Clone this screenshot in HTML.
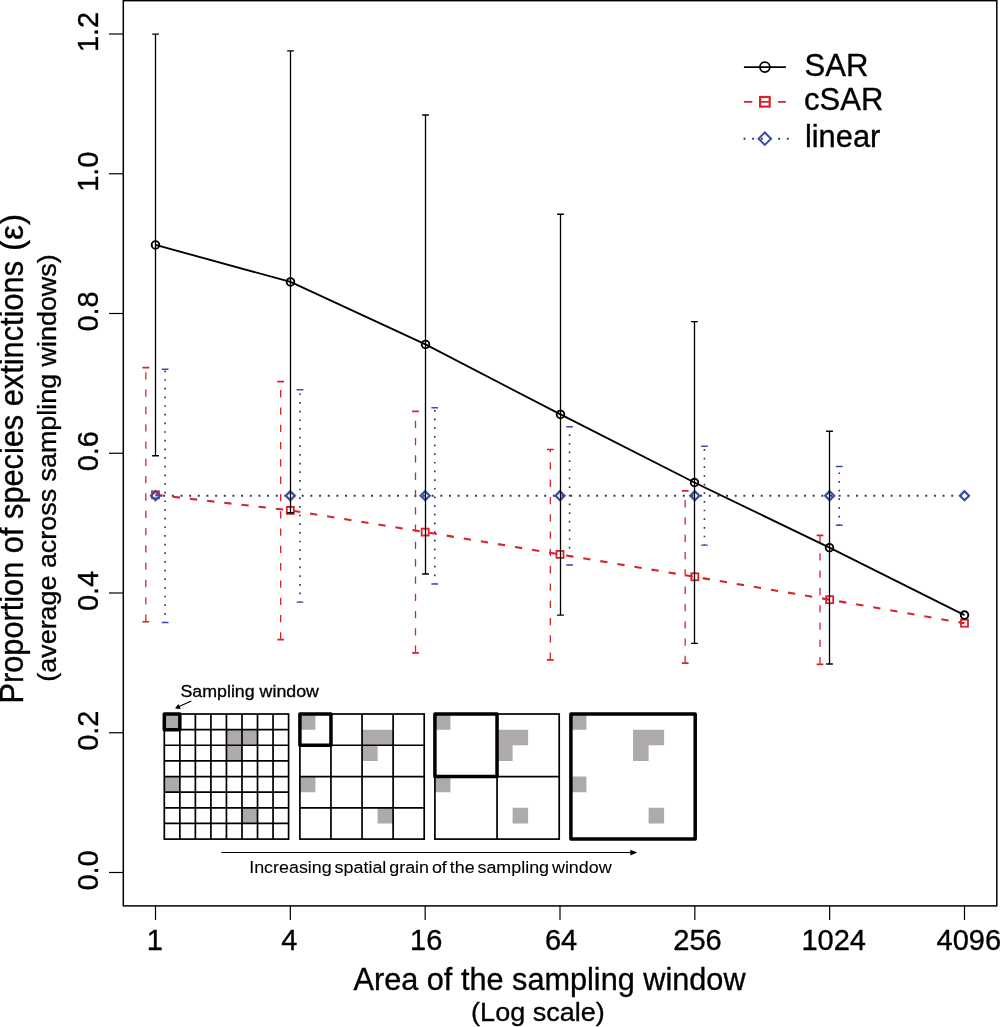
<!DOCTYPE html>
<html><head><meta charset="utf-8"><style>html,body{margin:0;padding:0;background:#fff;}svg{display:block;will-change:transform;} text{stroke:#000;stroke-width:0.35px;}</style></head>
<body><svg width="1000" height="1027" viewBox="0 0 1000 1027">
<rect x="0" y="0" width="1000" height="1027" fill="#fff"/>
<rect x="123.3" y="0.65" width="873.5" height="905.25" fill="none" stroke="#000" stroke-width="1.5"/>
<line x1="109" y1="872.5" x2="123.3" y2="872.5" stroke="#000" stroke-width="1.2"/>
<line x1="109" y1="732.75" x2="123.3" y2="732.75" stroke="#000" stroke-width="1.2"/>
<line x1="109" y1="593" x2="123.3" y2="593" stroke="#000" stroke-width="1.2"/>
<line x1="109" y1="453.25" x2="123.3" y2="453.25" stroke="#000" stroke-width="1.2"/>
<line x1="109" y1="313.5" x2="123.3" y2="313.5" stroke="#000" stroke-width="1.2"/>
<line x1="109" y1="173.75" x2="123.3" y2="173.75" stroke="#000" stroke-width="1.2"/>
<line x1="109" y1="34" x2="123.3" y2="34" stroke="#000" stroke-width="1.2"/>
<line x1="155.5" y1="905.9" x2="155.5" y2="920" stroke="#000" stroke-width="1.2"/>
<line x1="290.33" y1="905.9" x2="290.33" y2="920" stroke="#000" stroke-width="1.2"/>
<line x1="425.17" y1="905.9" x2="425.17" y2="920" stroke="#000" stroke-width="1.2"/>
<line x1="560" y1="905.9" x2="560" y2="920" stroke="#000" stroke-width="1.2"/>
<line x1="694.83" y1="905.9" x2="694.83" y2="920" stroke="#000" stroke-width="1.2"/>
<line x1="829.66" y1="905.9" x2="829.66" y2="920" stroke="#000" stroke-width="1.2"/>
<line x1="964.5" y1="905.9" x2="964.5" y2="920" stroke="#000" stroke-width="1.2"/>
<text x="146.87" y="950" font-family="Liberation Sans, sans-serif" font-size="29">1</text>
<text x="281.27" y="950" font-family="Liberation Sans, sans-serif" font-size="29">4</text>
<text x="410.07" y="950" font-family="Liberation Sans, sans-serif" font-size="29">16</text>
<text x="544.9" y="950" font-family="Liberation Sans, sans-serif" font-size="29">64</text>
<text x="673.25" y="950" font-family="Liberation Sans, sans-serif" font-size="29">256</text>
<text x="801.47" y="950" font-family="Liberation Sans, sans-serif" font-size="29">1024</text>
<text x="936.57" y="950" font-family="Liberation Sans, sans-serif" font-size="29">4096</text>
<text transform="translate(98,890.6) rotate(-90)" font-family="Liberation Sans, sans-serif" font-size="29">0.0</text>
<text transform="translate(98,750.85) rotate(-90)" font-family="Liberation Sans, sans-serif" font-size="29">0.2</text>
<text transform="translate(98,611.1) rotate(-90)" font-family="Liberation Sans, sans-serif" font-size="29">0.4</text>
<text transform="translate(98,471.35) rotate(-90)" font-family="Liberation Sans, sans-serif" font-size="29">0.6</text>
<text transform="translate(98,331.6) rotate(-90)" font-family="Liberation Sans, sans-serif" font-size="29">0.8</text>
<text transform="translate(98,191.85) rotate(-90)" font-family="Liberation Sans, sans-serif" font-size="29">1.0</text>
<text transform="translate(98,52.1) rotate(-90)" font-family="Liberation Sans, sans-serif" font-size="29">1.2</text>
<polyline points="155.5,495.7 290.33,495.7 425.17,495.7 560,495.7 694.83,495.7 829.66,495.7 964.5,495.7" fill="none" stroke="#2b3266" stroke-width="1.9" stroke-dasharray="1.9 6.76" stroke-dashoffset="0.95"/>
<path d="M165.1 622.5V369.25" stroke="#2b3266" stroke-width="1.6" fill="none" stroke-dasharray="1.7 6.96" stroke-dashoffset="0.85"/><path d="M161.7 369.25H168.5M161.7 622.5H168.5" stroke="#3a4ea3" stroke-width="1.4" fill="none"/>
<path d="M299.93 602.1V389.7" stroke="#2b3266" stroke-width="1.6" fill="none" stroke-dasharray="1.7 6.96" stroke-dashoffset="0.85"/><path d="M296.53 389.7H303.33M296.53 602.1H303.33" stroke="#3a4ea3" stroke-width="1.4" fill="none"/>
<path d="M434.77 584V407.75" stroke="#2b3266" stroke-width="1.6" fill="none" stroke-dasharray="1.7 6.96" stroke-dashoffset="0.85"/><path d="M431.37 407.75H438.17M431.37 584H438.17" stroke="#3a4ea3" stroke-width="1.4" fill="none"/>
<path d="M569.6 565V426.7" stroke="#2b3266" stroke-width="1.6" fill="none" stroke-dasharray="1.7 6.96" stroke-dashoffset="0.85"/><path d="M566.2 426.7H573M566.2 565H573" stroke="#3a4ea3" stroke-width="1.4" fill="none"/>
<path d="M704.43 545.15V446.3" stroke="#2b3266" stroke-width="1.6" fill="none" stroke-dasharray="1.7 6.96" stroke-dashoffset="0.85"/><path d="M701.03 446.3H707.83M701.03 545.15H707.83" stroke="#3a4ea3" stroke-width="1.4" fill="none"/>
<path d="M839.26 525.2V466.5" stroke="#2b3266" stroke-width="1.6" fill="none" stroke-dasharray="1.7 6.96" stroke-dashoffset="0.85"/><path d="M835.87 466.5H842.66M835.87 525.2H842.66" stroke="#3a4ea3" stroke-width="1.4" fill="none"/>
<polyline points="155.5,494.8 290.33,510.4 425.17,532.1 560,554.4 694.83,576.8 829.66,599.7 964.5,623.2" fill="none" stroke="#d8232f" stroke-width="2.1" stroke-dasharray="7.3 10"/>
<path d="M145.83 621.75V367.6" stroke="#d8232f" stroke-width="1.3" fill="none" stroke-dasharray="7.3 10" stroke-dashoffset="0"/><path d="M142.43 367.6H149.23M142.43 621.75H149.23" stroke="#d8232f" stroke-width="1.6" fill="none"/>
<path d="M280.66 639.6V381.6" stroke="#d8232f" stroke-width="1.3" fill="none" stroke-dasharray="7.3 10" stroke-dashoffset="0"/><path d="M277.26 381.6H284.06M277.26 639.6H284.06" stroke="#d8232f" stroke-width="1.6" fill="none"/>
<path d="M415.5 652.9V411.35" stroke="#d8232f" stroke-width="1.3" fill="none" stroke-dasharray="7.3 10" stroke-dashoffset="0"/><path d="M412.1 411.35H418.9M412.1 652.9H418.9" stroke="#d8232f" stroke-width="1.6" fill="none"/>
<path d="M550.33 659.9V449.5" stroke="#d8232f" stroke-width="1.3" fill="none" stroke-dasharray="7.3 10" stroke-dashoffset="0"/><path d="M546.93 449.5H553.73M546.93 659.9H553.73" stroke="#d8232f" stroke-width="1.6" fill="none"/>
<path d="M685.16 663.1V490.9" stroke="#d8232f" stroke-width="1.3" fill="none" stroke-dasharray="7.3 10" stroke-dashoffset="0"/><path d="M681.76 490.9H688.56M681.76 663.1H688.56" stroke="#d8232f" stroke-width="1.6" fill="none"/>
<path d="M820 664.35V535.4" stroke="#d8232f" stroke-width="1.3" fill="none" stroke-dasharray="7.3 10" stroke-dashoffset="0"/><path d="M816.6 535.4H823.39M816.6 664.35H823.39" stroke="#d8232f" stroke-width="1.6" fill="none"/>
<polyline points="155.5,244.9 290.5,281.9 425.5,344.4 560.5,414.4 694.5,482.5 829.5,547.7 964.5,615.1" fill="none" stroke="#000" stroke-width="1.85"/>
<rect x="152" y="491.3" width="7" height="7" fill="none" stroke="#d8232f" stroke-width="1.8"/>
<rect x="286.83" y="506.9" width="7" height="7" fill="none" stroke="#d8232f" stroke-width="1.8"/>
<rect x="421.67" y="528.6" width="7" height="7" fill="none" stroke="#d8232f" stroke-width="1.8"/>
<rect x="556.5" y="550.9" width="7" height="7" fill="none" stroke="#d8232f" stroke-width="1.8"/>
<rect x="691.33" y="573.3" width="7" height="7" fill="none" stroke="#d8232f" stroke-width="1.8"/>
<rect x="826.16" y="596.2" width="7" height="7" fill="none" stroke="#d8232f" stroke-width="1.8"/>
<rect x="961" y="619.7" width="7" height="7" fill="none" stroke="#d8232f" stroke-width="1.8"/>
<path d="M155.5 491.2L160 495.7L155.5 500.2L151 495.7Z" fill="none" stroke="#3a4ea3" stroke-width="2.3"/>
<path d="M290.33 491.2L294.83 495.7L290.33 500.2L285.83 495.7Z" fill="none" stroke="#3a4ea3" stroke-width="2.3"/>
<path d="M425.17 491.2L429.67 495.7L425.17 500.2L420.67 495.7Z" fill="none" stroke="#3a4ea3" stroke-width="2.3"/>
<path d="M560 491.2L564.5 495.7L560 500.2L555.5 495.7Z" fill="none" stroke="#3a4ea3" stroke-width="2.3"/>
<path d="M694.83 491.2L699.33 495.7L694.83 500.2L690.33 495.7Z" fill="none" stroke="#3a4ea3" stroke-width="2.3"/>
<path d="M829.66 491.2L834.16 495.7L829.66 500.2L825.16 495.7Z" fill="none" stroke="#3a4ea3" stroke-width="2.3"/>
<path d="M964.5 491.2L969 495.7L964.5 500.2L960 495.7Z" fill="none" stroke="#3a4ea3" stroke-width="2.3"/>
<path d="M155.5 455.7V34.1" stroke="#000" stroke-width="1.3" fill="none"/><path d="M152.1 34.1H158.9M152.1 455.7H158.9" stroke="#000" stroke-width="1.4" fill="none"/>
<path d="M290.5 512.8V50.9" stroke="#000" stroke-width="1.3" fill="none"/><path d="M287.1 50.9H293.9M287.1 512.8H293.9" stroke="#000" stroke-width="1.4" fill="none"/>
<path d="M425.5 574V115" stroke="#000" stroke-width="1.3" fill="none"/><path d="M422.1 115H428.9M422.1 574H428.9" stroke="#000" stroke-width="1.4" fill="none"/>
<path d="M560.5 615.1V214.2" stroke="#000" stroke-width="1.3" fill="none"/><path d="M557.1 214.2H563.9M557.1 615.1H563.9" stroke="#000" stroke-width="1.4" fill="none"/>
<path d="M694.5 643.4V321.6" stroke="#000" stroke-width="1.3" fill="none"/><path d="M691.1 321.6H697.9M691.1 643.4H697.9" stroke="#000" stroke-width="1.4" fill="none"/>
<path d="M829.5 664V431.2" stroke="#000" stroke-width="1.3" fill="none"/><path d="M826.1 431.2H832.9M826.1 664H832.9" stroke="#000" stroke-width="1.4" fill="none"/>
<circle cx="155.5" cy="244.9" r="3.8" fill="none" stroke="#000" stroke-width="1.9"/>
<circle cx="290.5" cy="281.9" r="3.8" fill="none" stroke="#000" stroke-width="1.9"/>
<circle cx="425.5" cy="344.4" r="3.8" fill="none" stroke="#000" stroke-width="1.9"/>
<circle cx="560.5" cy="414.4" r="3.8" fill="none" stroke="#000" stroke-width="1.9"/>
<circle cx="694.5" cy="482.5" r="3.8" fill="none" stroke="#000" stroke-width="1.9"/>
<circle cx="829.5" cy="547.7" r="3.8" fill="none" stroke="#000" stroke-width="1.9"/>
<circle cx="964.5" cy="615.1" r="3.8" fill="none" stroke="#000" stroke-width="1.9"/>
<line x1="743.9" y1="67.1" x2="785.9" y2="67.1" stroke="#000" stroke-width="1.6"/>
<circle cx="764.9" cy="67.1" r="5" fill="none" stroke="#000" stroke-width="1.8"/>
<line x1="743.9" y1="101.9" x2="785.9" y2="101.9" stroke="#d8232f" stroke-width="1.9" stroke-dasharray="8.4 8.7"/>
<rect x="760.1" y="97" width="9.6" height="9.6" fill="none" stroke="#d8232f" stroke-width="2.2"/>
<line x1="743.6" y1="138.7" x2="789" y2="138.7" stroke="#2b3266" stroke-width="2" stroke-dasharray="1.8 6.86"/>
<path d="M764.8 132.5L771 138.7L764.8 144.9L758.6 138.7Z" fill="none" stroke="#3a4ea3" stroke-width="2"/>
<text x="804.49" y="75.8" font-family="Liberation Sans, sans-serif" font-size="32" textLength="63.85" lengthAdjust="spacingAndGlyphs">SAR</text>
<text x="804.08" y="110.3" font-family="Liberation Sans, sans-serif" font-size="32" textLength="79.26" lengthAdjust="spacingAndGlyphs">cSAR</text>
<text x="804.92" y="146.7" font-family="Liberation Sans, sans-serif" font-size="31" textLength="75.39" lengthAdjust="spacingAndGlyphs">linear</text>
<text x="353.54" y="990.1" font-family="Liberation Sans, sans-serif" font-size="32" textLength="391.99" lengthAdjust="spacingAndGlyphs">Area of the sampling window</text>
<text x="471.13" y="1020.8" font-family="Liberation Sans, sans-serif" font-size="26.7" textLength="133.55" lengthAdjust="spacingAndGlyphs">(Log scale)</text>
<text transform="translate(23.4,703.52) rotate(-90)" font-family="Liberation Sans, sans-serif" font-size="32.5" textLength="442.53" lengthAdjust="spacingAndGlyphs">Proportion of species extinctions</text>
<text transform="translate(23.4,251.07) rotate(-90)" font-family="Liberation Sans, sans-serif" font-size="32.5" textLength="37.14" lengthAdjust="spacingAndGlyphs">(ε)</text>
<text transform="translate(56,681.67) rotate(-90)" font-family="Liberation Sans, sans-serif" font-size="26.5" textLength="427.33" lengthAdjust="spacingAndGlyphs">(average across sampling windows)</text>
<path d="M164.3 714h15.54v15.64h-15.54ZM226.45 729.64h15.54v15.64h-15.54ZM241.99 729.64h15.54v15.64h-15.54ZM226.45 745.27h15.54v15.64h-15.54ZM164.3 776.55h15.54v15.64h-15.54ZM241.99 807.83h15.54v15.64h-15.54Z" fill="#afaaaa"/>
<path d="M179.84 714V839.1M164.3 729.64H288.6M195.38 714V839.1M164.3 745.27H288.6M210.91 714V839.1M164.3 760.91H288.6M226.45 714V839.1M164.3 776.55H288.6M241.99 714V839.1M164.3 792.19H288.6M257.52 714V839.1M164.3 807.83H288.6M273.06 714V839.1M164.3 823.46H288.6" stroke="#000" stroke-width="1.7" fill="none"/>
<rect x="164.3" y="714" width="124.3" height="125.1" fill="none" stroke="#000" stroke-width="1.7"/>
<rect x="164.3" y="714" width="15.54" height="15.64" fill="none" stroke="#000" stroke-width="3.5" stroke-linejoin="round"/>
<path d="M299.9 714h15.54v15.64h-15.54ZM362.05 729.64h15.54v15.64h-15.54ZM377.59 729.64h15.54v15.64h-15.54ZM362.05 745.27h15.54v15.64h-15.54ZM299.9 776.55h15.54v15.64h-15.54ZM377.59 807.83h15.54v15.64h-15.54Z" fill="#afaaaa"/>
<path d="M330.97 714V839.1M299.9 745.27H424.2M362.05 714V839.1M299.9 776.55H424.2M393.12 714V839.1M299.9 807.83H424.2" stroke="#000" stroke-width="1.7" fill="none"/>
<rect x="299.9" y="714" width="124.3" height="125.1" fill="none" stroke="#000" stroke-width="1.7"/>
<rect x="299.9" y="714" width="31.07" height="31.27" fill="none" stroke="#000" stroke-width="3.5" stroke-linejoin="round"/>
<path d="M434.9 714h15.54v15.64h-15.54ZM497.05 729.64h15.54v15.64h-15.54ZM512.59 729.64h15.54v15.64h-15.54ZM497.05 745.27h15.54v15.64h-15.54ZM434.9 776.55h15.54v15.64h-15.54ZM512.59 807.83h15.54v15.64h-15.54Z" fill="#afaaaa"/>
<path d="M497.05 714V839.1M434.9 776.55H559.2" stroke="#000" stroke-width="1.7" fill="none"/>
<rect x="434.9" y="714" width="124.3" height="125.1" fill="none" stroke="#000" stroke-width="1.7"/>
<rect x="434.9" y="714" width="62.15" height="62.55" fill="none" stroke="#000" stroke-width="3.5" stroke-linejoin="round"/>
<path d="M570.9 714h15.54v15.64h-15.54ZM633.05 729.64h15.54v15.64h-15.54ZM648.59 729.64h15.54v15.64h-15.54ZM633.05 745.27h15.54v15.64h-15.54ZM570.9 776.55h15.54v15.64h-15.54ZM648.59 807.83h15.54v15.64h-15.54Z" fill="#afaaaa"/>
<rect x="570.9" y="714" width="124.3" height="125.1" fill="none" stroke="#000" stroke-width="3.5" stroke-linejoin="round"/>
<text x="180.49" y="697.1" font-family="Liberation Sans, sans-serif" font-size="16.8" textLength="138.46" lengthAdjust="spacingAndGlyphs" style="stroke-width:0.3px">Sampling window</text>
<line x1="191.3" y1="701" x2="178" y2="707" stroke="#000" stroke-width="1.2"/>
<path d="M175 708.5L178.4 704.1L180.8 709.1Z" fill="#000"/>
<line x1="221.4" y1="852.55" x2="632" y2="852.55" stroke="#000" stroke-width="1.1"/>
<path d="M637.2 852.55L630.4 849.7L630.4 855.4Z" fill="#000"/>
<text x="249.2" y="872.7" font-family="Liberation Sans, sans-serif" font-size="17.2" textLength="362.45" lengthAdjust="spacingAndGlyphs" word-spacing="-2" style="stroke-width:0.1px">Increasing spatial grain of the sampling window</text>
</svg></body></html>
